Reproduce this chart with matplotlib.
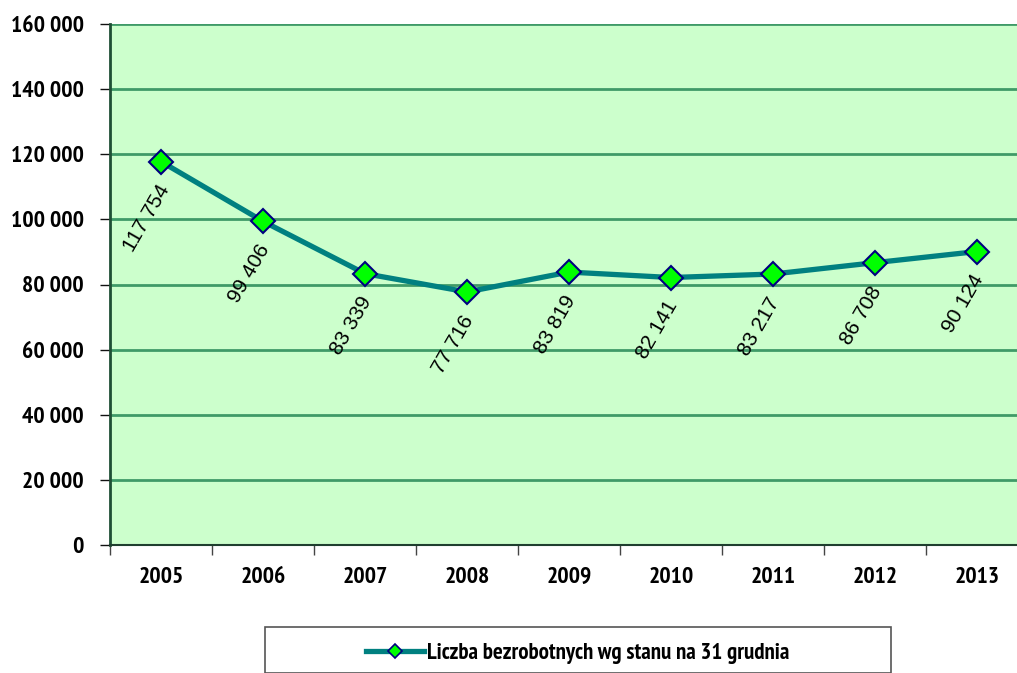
import matplotlib
matplotlib.use("Agg")
import matplotlib.pyplot as plt
from matplotlib.patches import Rectangle
from matplotlib.ticker import FixedLocator, FuncFormatter, NullFormatter

years = ["2005", "2006", "2007", "2008", "2009", "2010", "2011", "2012", "2013"]
values = [117754, 99406, 83339, 77716, 83819, 82141, 83217, 86708, 90124]
series_name = "Liczba bezrobotnych wg stanu na 31 grudnia"
y_ticks = [0, 20000, 40000, 60000, 80000, 100000, 120000, 140000, 160000]


def fmt(v):
    return f"{int(v):,}".replace(",", " ")


W, H = 1017, 673
fig = plt.figure(figsize=(W / 100, H / 100), dpi=100)
left, right, top, bottom = 110, 1028, 24, 545
ax = fig.add_axes([left / W, (H - bottom) / H, (right - left) / W, (bottom - top) / H])
ax.set_facecolor("#ccffcc")

narrow = ["PT Sans Narrow", "Liberation Sans", "DejaVu Sans"]
regular = ["Liberation Sans", "DejaVu Sans"]

x = list(range(len(years)))
ax.set_xlim(-0.5, len(years) - 0.5)
ax.set_ylim(0, 160000)

ax.yaxis.set_major_locator(FixedLocator(y_ticks))
ax.yaxis.set_major_formatter(FuncFormatter(lambda v, p: fmt(v)))
ax.grid(axis="y", color="#3f9a68", linewidth=2.0, zorder=1)
ax.set_axisbelow(True)

ax.xaxis.set_major_locator(FixedLocator([i - 0.5 for i in range(len(years) + 1)]))
ax.xaxis.set_major_formatter(NullFormatter())
ax.xaxis.set_minor_locator(FixedLocator(x))
ax.xaxis.set_minor_formatter(FuncFormatter(lambda v, p: years[int(round(v))]))
ax.tick_params(axis="x", which="major", length=7, width=1, color="#444444", direction="out")
ax.tick_params(axis="x", which="minor", length=0, pad=16)
ax.tick_params(axis="y", which="major", length=7, width=1, color="#111111", direction="out", pad=12)

for lab in ax.get_xticklabels(minor=True) + ax.get_yticklabels():
    lab.set_fontfamily(narrow)
    lab.set_fontweight("bold")
    lab.set_fontsize(17)
    lab.set_color("black")

for s in ["top", "right"]:
    ax.spines[s].set_visible(False)
ax.spines["left"].set_color("#1f4f35")
ax.spines["left"].set_linewidth(2)
ax.spines["bottom"].set_color("#1f3f2f")
ax.spines["bottom"].set_linewidth(1.5)

line, = ax.plot(x, values, color="#008080", linewidth=3.8, marker="D", markersize=12,
                markerfacecolor="#00ff00", markeredgecolor="#000080", markeredgewidth=1.5,
                zorder=3, clip_on=False, label=series_name)

for xi, v in zip(x, values):
    ax.annotate(fmt(v), (xi, v), xytext=(-14, -20), textcoords="offset pixels",
                rotation=60, ha="center", va="top", fontsize=15, fontfamily=regular,
                color="black", zorder=4)

# legend frame
fig.add_artist(Rectangle((265 / W, 0), (891 - 265) / W, 1 - 627 / H,
                         transform=fig.transFigure, facecolor="white",
                         edgecolor="#555555", linewidth=1.2, clip_on=False))
leg = fig.legend(handles=[line], loc="center", bbox_to_anchor=(578 / W, 1 - 653 / H),
                 frameon=False, handlelength=2.5, handletextpad=0.15,
                 prop={"family": narrow, "weight": "bold", "size": 16.5})
for h in leg.legend_handles:
    h.set_markersize(7.5)
    h.set_markeredgewidth(1.2)

fig.savefig("out.png", dpi=100)
